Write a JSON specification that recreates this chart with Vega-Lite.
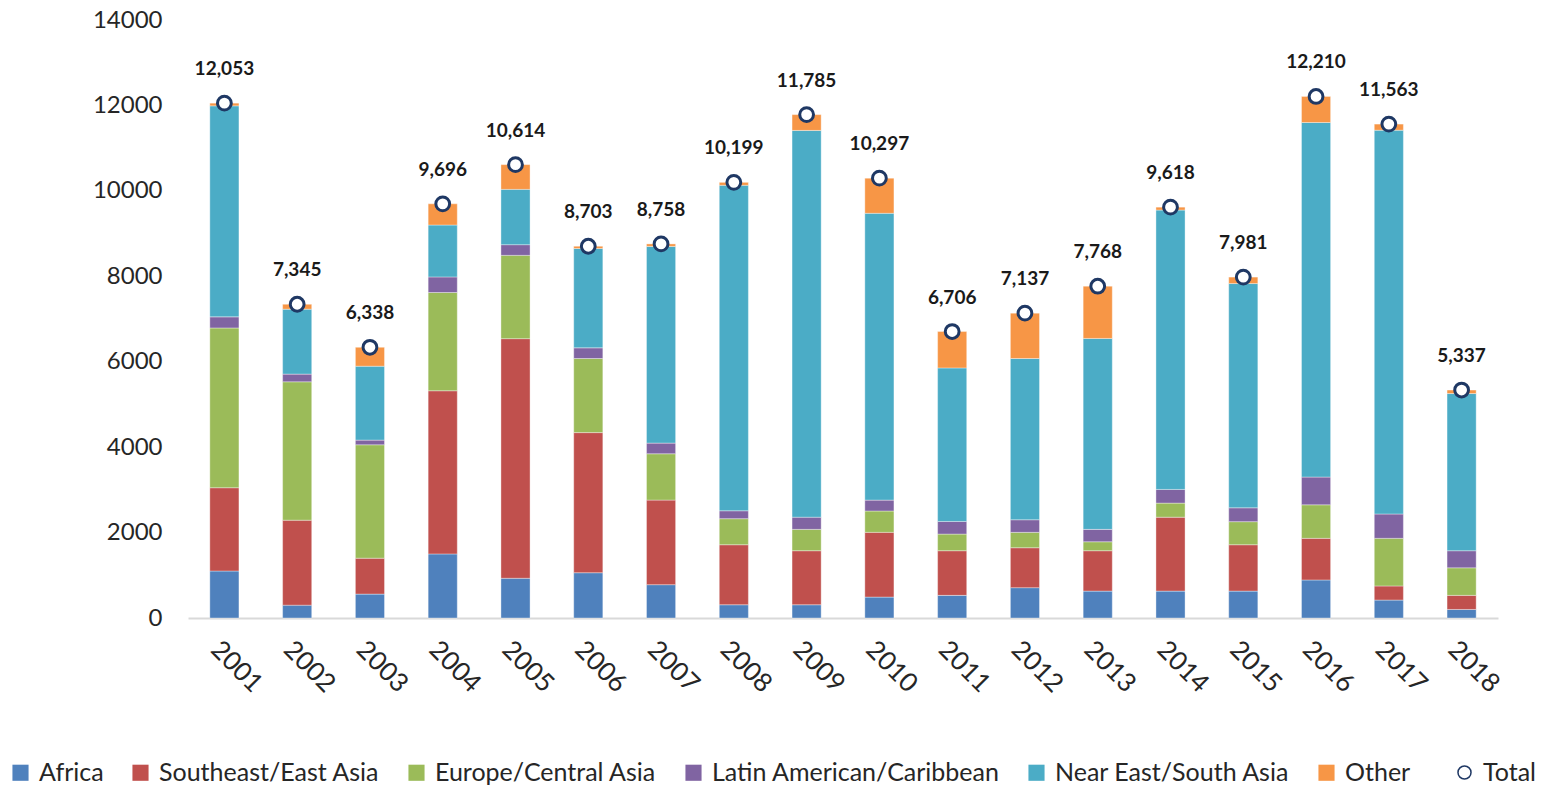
{
  "$schema": "https://vega.github.io/schema/vega-lite/v6.json",
  "width": 1310,
  "height": 598,
  "autosize": {"type": "none"},
  "padding": {"left": 188, "top": 20, "right": 56, "bottom": 170},
  "background": "white",
  "config": {
    "font": "Lato",
    "view": {"stroke": null},
    "axis": {"labelFont": "Lato", "labelColor": "#262626"},
    "legend": {"labelFont": "Lato", "labelColor": "#262626"}
  },
  "data": {
    "values": [
      {"year": "2001", "Africa": 1100, "Southeast/East Asia": 1950, "Europe/Central Asia": 3740, "Latin American/Caribbean": 260, "Near East/South Asia": 4940, "Other": 63, "Total": 12053},
      {"year": "2002", "Africa": 300, "Southeast/East Asia": 1990, "Europe/Central Asia": 3240, "Latin American/Caribbean": 180, "Near East/South Asia": 1520, "Other": 115, "Total": 7345},
      {"year": "2003", "Africa": 560, "Southeast/East Asia": 840, "Europe/Central Asia": 2655, "Latin American/Caribbean": 110, "Near East/South Asia": 1730, "Other": 443, "Total": 6338},
      {"year": "2004", "Africa": 1500, "Southeast/East Asia": 3820, "Europe/Central Asia": 2300, "Latin American/Caribbean": 365, "Near East/South Asia": 1215, "Other": 496, "Total": 9696},
      {"year": "2005", "Africa": 930, "Southeast/East Asia": 5610, "Europe/Central Asia": 1950, "Latin American/Caribbean": 250, "Near East/South Asia": 1295, "Other": 579, "Total": 10614},
      {"year": "2006", "Africa": 1060, "Southeast/East Asia": 3280, "Europe/Central Asia": 1735, "Latin American/Caribbean": 250, "Near East/South Asia": 2325, "Other": 53, "Total": 8703},
      {"year": "2007", "Africa": 780, "Southeast/East Asia": 1980, "Europe/Central Asia": 1085, "Latin American/Caribbean": 250, "Near East/South Asia": 4605, "Other": 58, "Total": 8758},
      {"year": "2008", "Africa": 310, "Southeast/East Asia": 1405, "Europe/Central Asia": 610, "Latin American/Caribbean": 185, "Near East/South Asia": 7620, "Other": 69, "Total": 10199},
      {"year": "2009", "Africa": 310, "Southeast/East Asia": 1265, "Europe/Central Asia": 500, "Latin American/Caribbean": 285, "Near East/South Asia": 9055, "Other": 370, "Total": 11785},
      {"year": "2010", "Africa": 490, "Southeast/East Asia": 1515, "Europe/Central Asia": 500, "Latin American/Caribbean": 255, "Near East/South Asia": 6715, "Other": 822, "Total": 10297},
      {"year": "2011", "Africa": 530, "Southeast/East Asia": 1045, "Europe/Central Asia": 390, "Latin American/Caribbean": 295, "Near East/South Asia": 3595, "Other": 851, "Total": 6706},
      {"year": "2012", "Africa": 710, "Southeast/East Asia": 935, "Europe/Central Asia": 360, "Latin American/Caribbean": 295, "Near East/South Asia": 3775, "Other": 1062, "Total": 7137},
      {"year": "2013", "Africa": 630, "Southeast/East Asia": 945, "Europe/Central Asia": 210, "Latin American/Caribbean": 290, "Near East/South Asia": 4470, "Other": 1223, "Total": 7768},
      {"year": "2014", "Africa": 630, "Southeast/East Asia": 1730, "Europe/Central Asia": 330, "Latin American/Caribbean": 320, "Near East/South Asia": 6540, "Other": 68, "Total": 9618},
      {"year": "2015", "Africa": 630, "Southeast/East Asia": 1085, "Europe/Central Asia": 540, "Latin American/Caribbean": 325, "Near East/South Asia": 5250, "Other": 151, "Total": 7981},
      {"year": "2016", "Africa": 890, "Southeast/East Asia": 975, "Europe/Central Asia": 785, "Latin American/Caribbean": 650, "Near East/South Asia": 8300, "Other": 610, "Total": 12210},
      {"year": "2017", "Africa": 420, "Southeast/East Asia": 330, "Europe/Central Asia": 1115, "Latin American/Caribbean": 570, "Near East/South Asia": 8985, "Other": 143, "Total": 11563},
      {"year": "2018", "Africa": 200, "Southeast/East Asia": 330, "Europe/Central Asia": 645, "Latin American/Caribbean": 400, "Near East/South Asia": 3680, "Other": 82, "Total": 5337}
    ]
  },
  "encoding": {
    "x": {
      "field": "year", "type": "nominal", "title": null,
      "scale": {"paddingInner": 0.6, "paddingOuter": 0.3},
      "axis": {
        "labelAngle": 45, "labelFontSize": 26, "labelPadding": 18,
        "ticks": false, "domainColor": "#d9d9d9", "domainWidth": 2, "grid": false
      }
    }
  },
  "layer": [
    {
      "transform": [
        {"fold": ["Africa", "Southeast/East Asia", "Europe/Central Asia", "Latin American/Caribbean", "Near East/South Asia", "Other"], "as": ["region", "value"]},
        {"calculate": "indexof(['Africa', 'Southeast/East Asia', 'Europe/Central Asia', 'Latin American/Caribbean', 'Near East/South Asia', 'Other'], datum.region)", "as": "ord"}
      ],
      "mark": {"type": "bar", "stroke": "#ffffff", "strokeWidth": 0.6, "strokeOpacity": 0.6},
      "encoding": {
        "y": {
          "field": "value", "type": "quantitative", "stack": "zero", "title": null,
          "scale": {"domain": [0, 14000], "nice": false},
          "axis": {
            "values": [0, 2000, 4000, 6000, 8000, 10000, 12000, 14000],
            "format": "d", "labelFontSize": 24, "labelPadding": 26,
            "domain": false, "ticks": false, "grid": false
          }
        },
        "color": {
          "field": "region", "type": "nominal",
          "scale": {
            "domain": ["Africa", "Southeast/East Asia", "Europe/Central Asia", "Latin American/Caribbean", "Near East/South Asia", "Other"],
            "range": ["#4F81BD", "#C0504D", "#9BBB59", "#8064A2", "#4BACC6", "#F79646"]
          },
          "legend": {
            "title": null, "orient": "none", "direction": "horizontal",
            "legendX": -180, "legendY": 740,
            "symbolType": "square", "symbolSize": 260, "symbolStrokeWidth": 0,
            "labelFontSize": 25, "labelOffset": 6, "columnPadding": 24,
            "labelLimit": 400
          }
        },
        "order": {"field": "ord", "type": "quantitative"}
      }
    },
    {
      "mark": {"type": "point", "filled": true, "fill": "#ffffff", "stroke": "#1F3864", "strokeWidth": 3, "size": 190, "opacity": 1},
      "encoding": {
        "y": {"field": "Total", "type": "quantitative"},
        "shape": {
          "datum": "Total", "type": "nominal",
          "scale": {"domain": ["Total"], "range": ["circle"]},
          "legend": {
            "title": null, "orient": "none", "legendX": 1264, "legendY": 740,
            "labelFontSize": 25, "labelOffset": 6, "symbolSize": 170,
            "encode": {
              "symbols": {
                "update": {
                  "fill": {"value": "#ffffff"},
                  "stroke": {"value": "#1F3864"},
                  "strokeWidth": {"value": 3},
                  "opacity": {"value": 1},
                  "fillOpacity": {"value": 1},
                  "strokeOpacity": {"value": 1}
                }
              }
            }
          }
        }
      }
    },
    {
      "mark": {"type": "text", "dy": -34, "fontSize": 19, "fontWeight": "bold", "color": "#1a1a1a", "font": "Lato"},
      "encoding": {
        "y": {"field": "Total", "type": "quantitative"},
        "text": {"field": "Total", "type": "quantitative", "format": ","}
      }
    }
  ]
}
